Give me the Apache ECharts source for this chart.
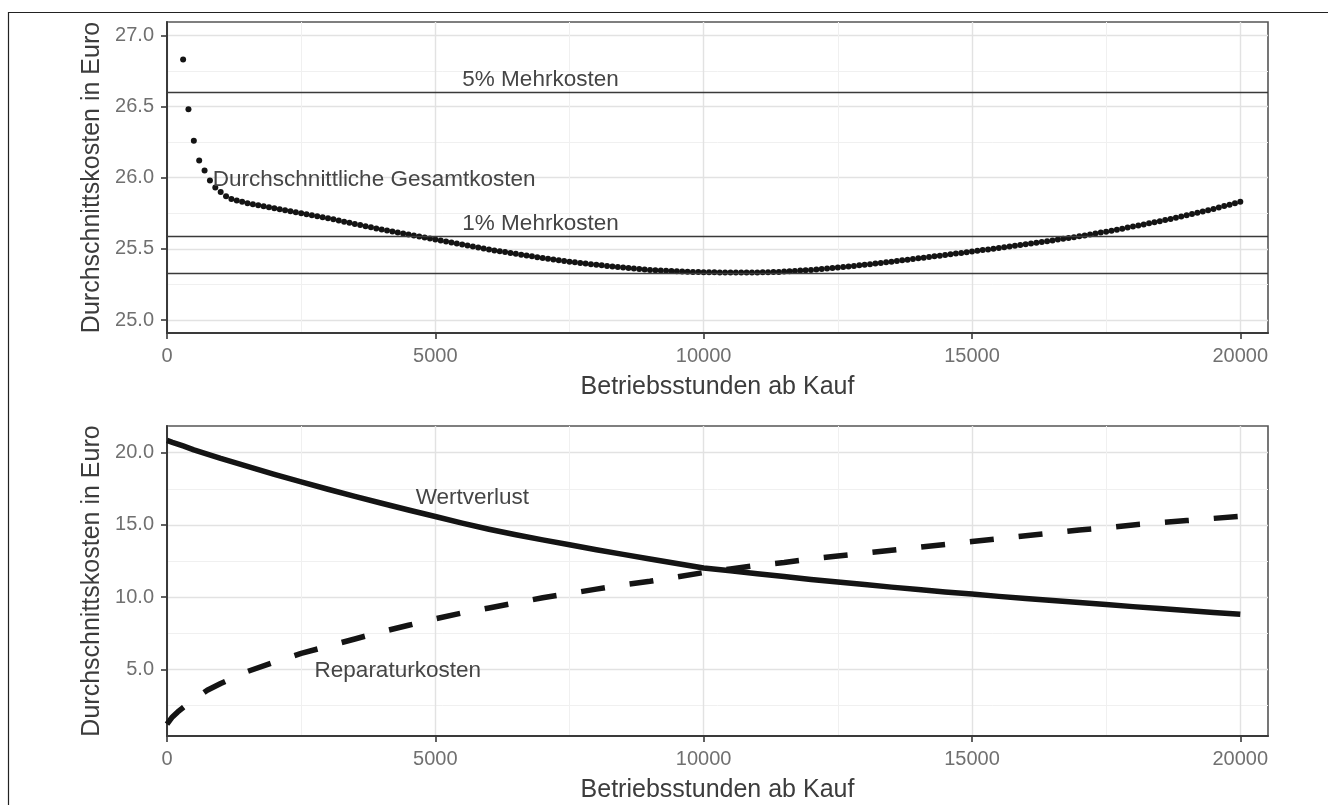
<!DOCTYPE html>
<html>
<head>
<meta charset="utf-8">
<script src="https://cdn.jsdelivr.net/npm/echarts@6/dist/echarts.min.js"></script>
<style>
  html, body { margin: 0; padding: 0; background: #ffffff; }
  #chart { width: 1328px; height: 805px; }
</style>
</head>
<body>
<div id="chart"></div>
<script>
// Average total cost per operating hour, sampled every 100 hours
const totalHours = [
  300, 400, 500, 600, 700, 800, 900, 1000,
  1100, 1200, 1300, 1400, 1500, 1600, 1700, 1800, 1900, 2000,
  2100, 2200, 2300, 2400, 2500, 2600, 2700, 2800, 2900, 3000,
  3100, 3200, 3300, 3400, 3500, 3600, 3700, 3800, 3900, 4000,
  4100, 4200, 4300, 4400, 4500, 4600, 4700, 4800, 4900, 5000,
  5100, 5200, 5300, 5400, 5500, 5600, 5700, 5800, 5900, 6000,
  6100, 6200, 6300, 6400, 6500, 6600, 6700, 6800, 6900, 7000,
  7100, 7200, 7300, 7400, 7500, 7600, 7700, 7800, 7900, 8000,
  8100, 8200, 8300, 8400, 8500, 8600, 8700, 8800, 8900, 9000,
  9100, 9200, 9300, 9400, 9500, 9600, 9700, 9800, 9900, 10000,
  10100, 10200, 10300, 10400, 10500, 10600, 10700, 10800, 10900, 11000,
  11100, 11200, 11300, 11400, 11500, 11600, 11700, 11800, 11900, 12000,
  12100, 12200, 12300, 12400, 12500, 12600, 12700, 12800, 12900, 13000,
  13100, 13200, 13300, 13400, 13500, 13600, 13700, 13800, 13900, 14000,
  14100, 14200, 14300, 14400, 14500, 14600, 14700, 14800, 14900, 15000,
  15100, 15200, 15300, 15400, 15500, 15600, 15700, 15800, 15900, 16000,
  16100, 16200, 16300, 16400, 16500, 16600, 16700, 16800, 16900, 17000,
  17100, 17200, 17300, 17400, 17500, 17600, 17700, 17800, 17900, 18000,
  18100, 18200, 18300, 18400, 18500, 18600, 18700, 18800, 18900, 19000,
  19100, 19200, 19300, 19400, 19500, 19600, 19700, 19800, 19900, 20000
];
const totalCost = [
  26.83, 26.48, 26.26, 26.12, 26.05, 25.98, 25.93, 25.90,
  25.87, 25.85, 25.84, 25.83, 25.82, 25.813, 25.806, 25.799, 25.792, 25.785,
  25.778, 25.771, 25.764, 25.757, 25.75, 25.743, 25.736, 25.729, 25.722, 25.715,
  25.707, 25.699, 25.691, 25.683, 25.675, 25.667, 25.659, 25.651, 25.643, 25.635,
  25.628, 25.621, 25.614, 25.607, 25.6, 25.593, 25.586, 25.579, 25.572, 25.565,
  25.558, 25.551, 25.544, 25.537, 25.53, 25.523, 25.516, 25.509, 25.502, 25.495,
  25.489, 25.483, 25.477, 25.471, 25.465, 25.459, 25.453, 25.447, 25.441, 25.435,
  25.43, 25.425, 25.42, 25.415, 25.41, 25.406, 25.401, 25.397, 25.392, 25.388,
  25.384, 25.38, 25.376, 25.372, 25.368, 25.365, 25.362, 25.358, 25.355, 25.352,
  25.35, 25.348, 25.346, 25.344, 25.342, 25.341, 25.339, 25.338, 25.337, 25.336,
  25.335, 25.335, 25.334, 25.334, 25.333, 25.333, 25.333, 25.333, 25.334, 25.334,
  25.335, 25.336, 25.337, 25.338, 25.34, 25.342, 25.344, 25.347, 25.349, 25.352,
  25.355, 25.358, 25.361, 25.365, 25.368, 25.372, 25.376, 25.38, 25.384, 25.388,
  25.392, 25.397, 25.401, 25.406, 25.41, 25.415, 25.419, 25.424, 25.428, 25.433,
  25.438, 25.443, 25.447, 25.452, 25.457, 25.462, 25.467, 25.471, 25.476, 25.481,
  25.486, 25.491, 25.496, 25.501, 25.506, 25.511, 25.516, 25.521, 25.527, 25.532,
  25.537, 25.543, 25.548, 25.554, 25.559, 25.565, 25.571, 25.576, 25.582, 25.588,
  25.594, 25.601, 25.607, 25.614, 25.62, 25.627, 25.634, 25.641, 25.649, 25.656,
  25.663, 25.671, 25.679, 25.686, 25.694, 25.702, 25.71, 25.718, 25.727, 25.735,
  25.744, 25.753, 25.762, 25.771, 25.78, 25.79, 25.8, 25.81, 25.82, 25.83
];
// Minimum average cost, +1 % and +5 % levels
const costLevels = [25.333, 25.586, 26.6];

// Cost components per operating hour
const componentHours = [
  0, 100, 200, 300, 500, 750, 1000, 1500, 2000, 2500, 3000, 3500, 4000, 4500, 5000,
  5500, 6000, 6500, 7000, 7500, 8000, 8500, 9000, 9500, 10000, 10500, 11000, 11500,
  12000, 12500, 13000, 13500, 14000, 14500, 15000, 15500, 16000, 16500, 17000, 17500,
  18000, 18500, 19000, 19500, 20000
];
const depreciation = [
  20.85, 20.72, 20.6, 20.47, 20.2, 19.9, 19.6, 19.05, 18.5, 17.98, 17.47, 16.98, 16.5, 16.03, 15.58,
  15.12, 14.7, 14.32, 13.96, 13.62, 13.28, 12.96, 12.64, 12.33, 12.02, 11.82, 11.62, 11.42,
  11.22, 11.04, 10.87, 10.69, 10.52, 10.36, 10.21, 10.05, 9.9, 9.76, 9.62, 9.48,
  9.34, 9.21, 9.07, 8.94, 8.81
];
const repairCost = [
  1.2, 1.7, 2.05, 2.35, 2.9, 3.55, 4.02, 4.85, 5.5, 6.1, 6.6, 7.1, 7.6, 8.05, 8.5,
  8.9, 9.25, 9.6, 9.95, 10.25, 10.55, 10.85, 11.1, 11.4, 11.7, 11.95, 12.2, 12.4,
  12.65, 12.85, 13.05, 13.25, 13.45, 13.65, 13.85, 14.05, 14.25, 14.45, 14.65, 14.8,
  15.0, 15.15, 15.3, 15.45, 15.6
];

// Tick values
const xTicks = [0, 5000, 10000, 15000, 20000];
const xMinorTicks = [2500, 7500, 12500, 17500];
const topYTicks = [25.0, 25.5, 26.0, 26.5, 27.0];
const topYMinorTicks = [25.25, 25.75, 26.25, 26.75];
const bottomYTicks = [5, 10, 15, 20];
const bottomYMinorTicks = [2.5, 7.5, 12.5, 17.5];

// Text annotations
const topNotes = [
  { name: '5% Mehrkosten', value: [6960, 26.69] },
  { name: '1% Mehrkosten', value: [6960, 25.674] },
  { name: 'Durchschnittliche Gesamtkosten', value: [3860, 25.986] }
];
const bottomNotes = [
  { name: 'Wertverlust', value: [5690, 16.86] },
  { name: 'Reparaturkosten', value: [4300, 4.88] }
];

const FONT = '"Liberation Sans", Arial, Helvetica, sans-serif';
const X_MAX = 20516;
const X_TITLE = 'Betriebsstunden ab Kauf';
const Y_TITLE = 'Durchschnittskosten in Euro';

function mainXAxis(gridIndex) {
  return {
    type: 'value', gridIndex: gridIndex, min: 0, max: X_MAX, position: 'bottom',
    axisLine: { show: true, onZero: false, lineStyle: { color: '#3a3a3a', width: 2 } },
    axisTick: { show: true, length: 6, customValues: xTicks, lineStyle: { color: '#3a3a3a', width: 1.6 } },
    axisLabel: {
      customValues: xTicks, fontSize: 20, color: '#707070', margin: 13, fontFamily: FONT,
      formatter: function (v) { return String(Math.round(v)); }
    },
    splitLine: { show: true, lineStyle: { color: '#e2e2e2', width: 1.4 } },
    name: X_TITLE, nameLocation: 'middle', nameGap: 42,
    nameTextStyle: { fontSize: 25, color: '#3c3c3c', fontFamily: FONT }
  };
}
function minorXAxis(gridIndex) {
  return {
    type: 'value', gridIndex: gridIndex, min: 0, max: X_MAX, position: 'bottom',
    axisLine: { show: false }, axisLabel: { show: false },
    axisTick: { show: false, customValues: xMinorTicks },
    splitLine: { show: true, lineStyle: { color: '#f0f0f0', width: 1 } }
  };
}
function mainYAxis(gridIndex, min, max, ticks) {
  return {
    type: 'value', gridIndex: gridIndex, min: min, max: max, position: 'left',
    axisLine: { show: true, onZero: false, lineStyle: { color: '#3a3a3a', width: 2 } },
    axisTick: { show: true, length: 6, customValues: ticks, lineStyle: { color: '#3a3a3a', width: 1.6 } },
    axisLabel: {
      customValues: ticks, fontSize: 20, color: '#707070', margin: 13, fontFamily: FONT,
      formatter: function (v) { return Number(v).toFixed(1); }
    },
    splitLine: { show: true, lineStyle: { color: '#e2e2e2', width: 1.4 } },
    name: Y_TITLE, nameLocation: 'middle', nameRotate: 90, nameGap: 61,
    nameTextStyle: { fontSize: 25, color: '#3c3c3c', fontFamily: FONT }
  };
}
function minorYAxis(gridIndex, min, max, ticks) {
  return {
    type: 'value', gridIndex: gridIndex, min: min, max: max, position: 'left',
    axisLine: { show: false }, axisLabel: { show: false },
    axisTick: { show: false, customValues: ticks },
    splitLine: { show: true, lineStyle: { color: '#f0f0f0', width: 1 } }
  };
}
function noteSeries(xIdx, yIdx, notes) {
  return {
    type: 'scatter', xAxisIndex: xIdx, yAxisIndex: yIdx, silent: true,
    symbolSize: 1, itemStyle: { color: 'rgba(0,0,0,0)', opacity: 1 },
    label: { show: true, position: 'inside', formatter: '{b}', fontSize: 22.5, color: '#454545', opacity: 1, fontFamily: FONT },
    data: notes, z: 5
  };
}

const chart = echarts.init(document.getElementById('chart'), null, { renderer: 'canvas' });
chart.setOption({
  animation: false,
  backgroundColor: '#ffffff',
  textStyle: { fontFamily: FONT },
  graphic: [{
    type: 'rect', silent: true, z: -10,
    shape: { x: 8.5, y: 12.5, width: 1400, height: 900 },
    style: { fill: 'none', stroke: '#222222', lineWidth: 1.2 }
  }],
  grid: [
    { left: 167, top: 22, width: 1101, height: 311, show: true, borderColor: '#555555', borderWidth: 1.6, backgroundColor: 'transparent', containLabel: false, outerBoundsMode: 'none' },
    { left: 167, top: 426, width: 1101, height: 310, show: true, borderColor: '#555555', borderWidth: 1.6, backgroundColor: 'transparent', containLabel: false, outerBoundsMode: 'none' }
  ],
  xAxis: [mainXAxis(0), minorXAxis(0), mainXAxis(1), minorXAxis(1)],
  yAxis: [
    mainYAxis(0, 24.9087, 27.0934, topYTicks),
    minorYAxis(0, 24.9087, 27.0934, topYMinorTicks),
    mainYAxis(1, 0.381, 21.849, bottomYTicks),
    minorYAxis(1, 0.381, 21.849, bottomYMinorTicks)
  ],
  series: [
    {
      type: 'scatter', name: 'Durchschnittliche Gesamtkosten',
      xAxisIndex: 0, yAxisIndex: 0, silent: true,
      symbol: 'circle', symbolSize: 6, itemStyle: { color: '#141414', opacity: 1 },
      data: totalHours.map(function (h, i) { return [h, totalCost[i]]; }),
      markLine: {
        silent: true, symbol: ['none', 'none'], label: { show: false },
        lineStyle: { color: '#3a3a3a', width: 1.3, type: 'solid', opacity: 1 },
        data: costLevels.map(function (v) { return { yAxis: v }; })
      },
      z: 3
    },
    noteSeries(0, 0, topNotes),
    {
      type: 'line', name: 'Wertverlust', xAxisIndex: 2, yAxisIndex: 2, silent: true,
      showSymbol: false, symbol: 'none',
      lineStyle: { color: '#141414', width: 5.5, cap: 'butt', join: 'round' },
      data: componentHours.map(function (h, i) { return [h, depreciation[i]]; }),
      z: 3
    },
    {
      type: 'line', name: 'Reparaturkosten', xAxisIndex: 2, yAxisIndex: 2, silent: true,
      showSymbol: false, symbol: 'none',
      lineStyle: { color: '#141414', width: 5.5, type: [24, 25], cap: 'butt', join: 'round' },
      data: componentHours.map(function (h, i) { return [h, repairCost[i]]; }),
      z: 3
    },
    noteSeries(2, 2, bottomNotes)
  ]
});
</script>
</body>
</html>
